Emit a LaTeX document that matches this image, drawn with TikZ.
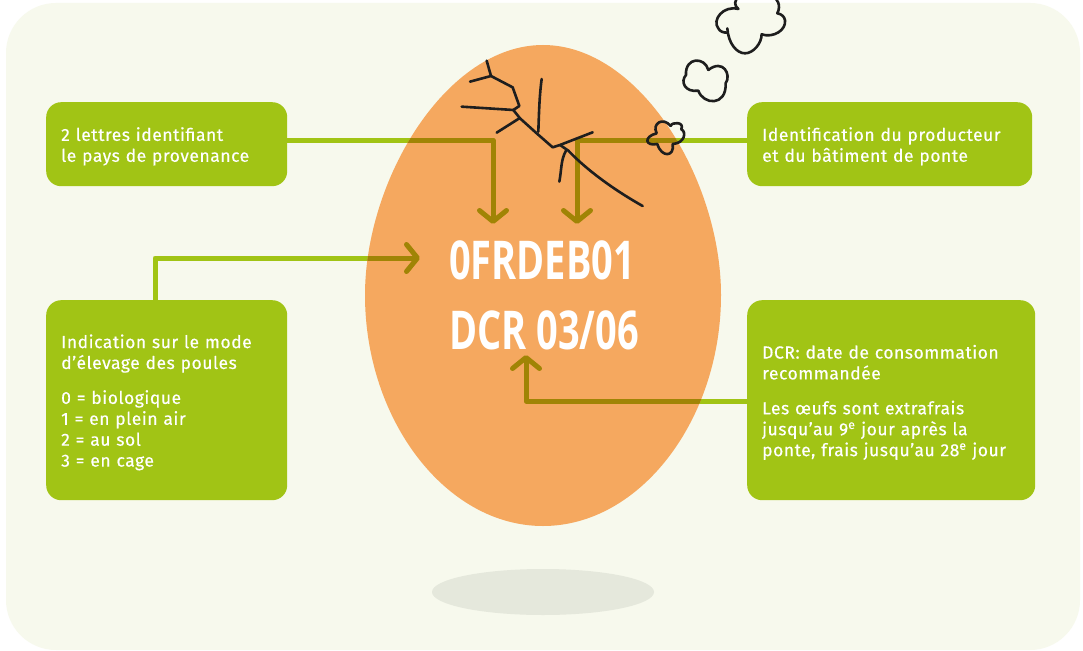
\documentclass[tikz,border=0pt]{standalone}
\usepackage{fontspec}
\setmainfont[LetterSpace=3,FakeBold=0.4]{Fira Sans}
\newfontfamily\bigfont[FakeStretch=0.71]{Open Sans}
\usetikzlibrary{arrows.meta}
\definecolor{bgc}{HTML}{F7F9ED}
\definecolor{eggc}{HTML}{F5A85F}
\definecolor{boxc}{HTML}{A1C415}
\definecolor{oliv}{HTML}{A08405}
\definecolor{shad}{HTML}{E5E8DC}
\definecolor{inkc}{HTML}{1E1E1E}
\newcommand{\dnstrut}{\rule{0pt}{18pt}}
\tikzset{
 infobox/.style={fill=boxc,rounded corners=15pt,text=white,align=left,anchor=north west,inner xsep=15pt,inner ysep=0pt,font=\fontsize{17.5}{20.9}\selectfont},
 codetext/.style={text=white,anchor=base west,inner sep=0pt,font=\bigfont\bfseries\fontsize{53.5}{53.5}\selectfont},
 linkg/.style={draw=boxc,line width=5pt,line join=round},
 linko/.style={draw=oliv,line width=5pt,line join=round,-{Straight Barb[length=11pt,width=27pt,round,line width=5pt]}},
 inkl/.style={draw=inkc,line width=2.6pt,line cap=round,line join=round},
}
\newcommand{\eggshape}{(543,45) .. controls (640,45) and (721,180) .. (721,295) .. controls (721,420) and (640,526) .. (543,526) .. controls (446,526) and (365,420) .. (365,295) .. controls (365,180) and (446,45) .. (543,45) -- cycle}
\begin{document}
\begin{tikzpicture}[x=1pt,y=-1pt]
\useasboundingbox (0,0) rectangle (1083,650);
\fill[white] (0,0) rectangle (1083,650);
\fill[bgc,rounded corners=50pt] (6,3) rectangle (1080,650);
\fill[shad] (543,592) ellipse [x radius=111,y radius=23];
% boxes
\node[infobox,text width=211pt,minimum height=84pt] (nA) at (46,102) {\dnstrut 2 lettres identifiant\\le pays de provenance};
\node[infobox,text width=255pt,minimum height=84pt] (nB) at (747,102) {\dnstrut Identification du producteur\\et du bâtiment de ponte};
\node[infobox,text width=211pt,minimum height=200pt] (nC) at (46,300) {\dnstrut Indication sur le mode\\d’élevage des poules\\[14pt]0 = biologique\\1 = en plein air\\2 = au sol\\3 = en cage};
\node[infobox,text width=258pt,minimum height=200pt] (nD) at (747,300) {\dnstrut DCR: date de consommation\\recommandée\\[14pt]Les œufs sont extrafrais\\jusqu’au 9\textsuperscript{e} jour après la\\ponte, frais jusqu’au 28\textsuperscript{e} jour};
% routing points
\coordinate (ca) at (493,140); \coordinate (ta) at (493,224);
\coordinate (cb) at (577,140); \coordinate (tb) at (577,224);
\coordinate (cc) at (155,258); \coordinate (tc) at (420,258);
\coordinate (cd) at (526,401); \coordinate (td) at (526,355);
% green parts under the egg
\draw[linkg] (nA.east |- ca) -- (ca);
\draw[linkg] (nB.west |- cb) -- (cb);
\draw[linkg] (nC.north -| cc) -- (cc) -- (tc);
\draw[linkg] (nD.west |- cd) -- (cd);
% egg
\fill[eggc] \eggshape;
% olive parts inside the egg
\begin{scope}
\clip \eggshape;
\draw[linko] (nA.east |- ca) -- (ca) -- (ta);
\draw[linko] (nB.west |- cb) -- (cb) -- (tb);
\draw[linko] (nC.north -| cc) -- (cc) -- (tc);
\draw[linko] (nD.west |- cd) -- (cd) -- (td);
\end{scope}
% code
\node[codetext] (l1) at (449,279) {0FRDEB01};
\node[codetext] (l2) at (449,349) {DCR 03/06};
% cracks and puffs
\begin{scope}[shift={(440,0)},x=0.3333pt,y=-0.3333pt]
\draw[inkl] (140,182) -- (153,228) -- (218,262) -- (238,318) -- (220,330) -- (240,355) -- (290,400) -- (338,442) -- (360,435) -- (458,397);
\draw[inkl] (360,435) -- (385,452) .. controls (450,520) and (540,580) .. (608,618);
\draw[inkl] (90,245) -- (153,228);
\draw[inkl] (65,320) -- (220,330);
\draw[inkl] (170,398) -- (238,355);
\draw[inkl] (305,237) .. controls (298,290) and (297,340) .. (295,395);
\draw[inkl] (378,452) .. controls (362,480) and (365,510) .. (358,545);
% big puff
\draw[inkl] (895,27) .. controls (850,15) and (815,60) .. (835,85) .. controls (840,95) and (850,98) .. (862,98);
\draw[inkl] (862,85) .. controls (865,130) and (890,160) .. (915,160) .. controls (940,160) and (965,130) .. (965,103) .. controls (1000,115) and (1040,90) .. (1035,60) .. controls (1033,50) and (1025,42) .. (1012,40) .. controls (1025,15) and (1010,-5) .. (1000,-10);
\draw[inkl] (895,27) .. controls (880,15) and (885,0) .. (895,-8);
% medium puff
\draw[inkl] (805,210) .. controls (795,170) and (735,170) .. (738,225) .. controls (720,245) and (735,278) .. (775,272) .. controls (790,315) and (860,320) .. (857,250) .. controls (875,225) and (850,175) .. (805,210);
% small puff
\draw[inkl] (692,378) .. controls (670,350) and (635,370) .. (650,400) .. controls (610,410) and (615,440) .. (652,432) .. controls (665,475) and (705,470) .. (698,432) .. controls (735,430) and (740,395) .. (724,388) .. controls (735,365) and (695,365) .. (692,378);
\end{scope}
\end{tikzpicture}
\end{document}
